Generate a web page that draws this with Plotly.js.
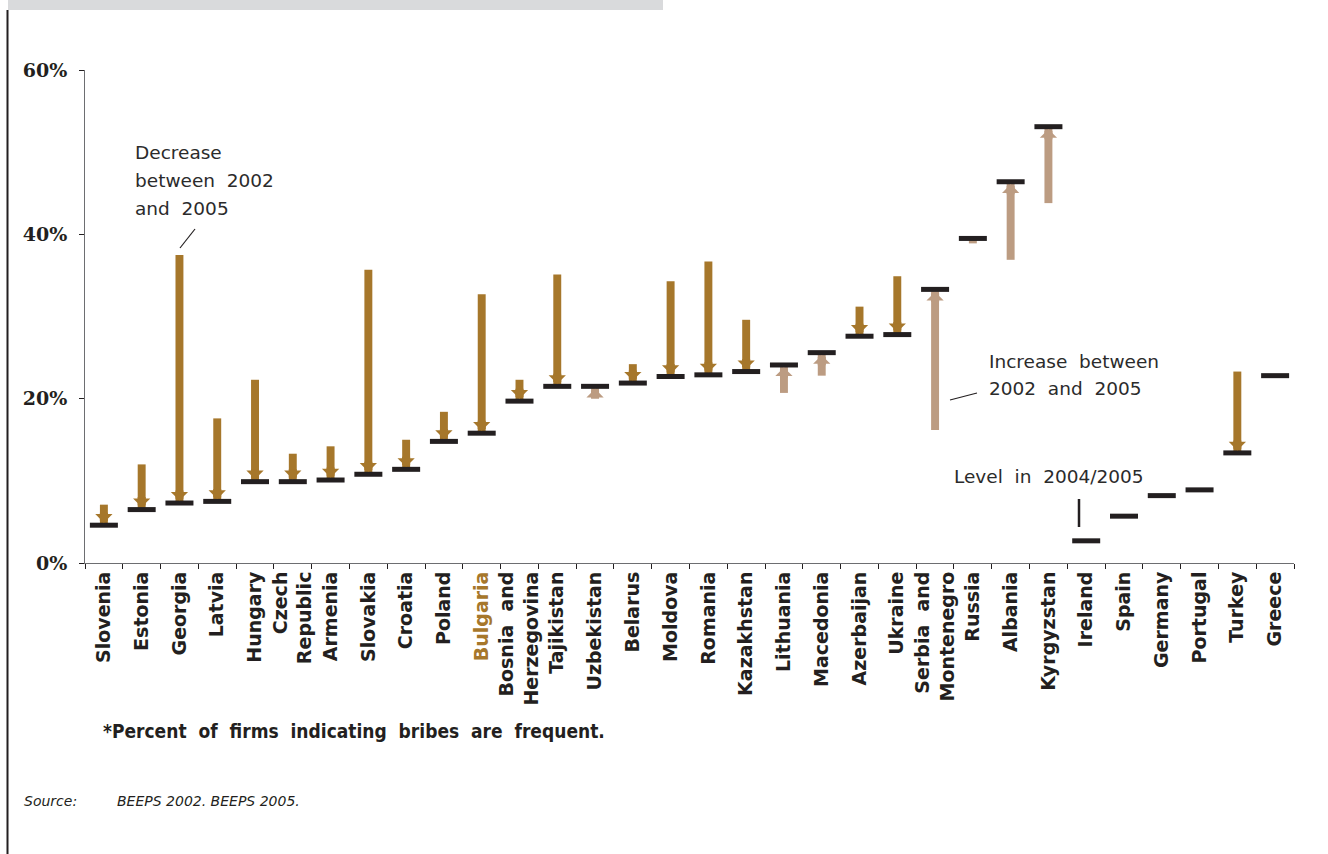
<!DOCTYPE html>
<html>
<head>
<meta charset="utf-8">
<script src="https://cdn.plot.ly/plotly-3.0.1.min.js"></script>
<style>
  html, body { margin: 0; padding: 0; background: #ffffff; }
  #chart { width: 1328px; height: 854px; }
</style>
</head>
<body>
<div id="chart"></div>
<script>
// ---- Data (percent of firms indicating bribes are frequent) ----
const countries = ["Slovenia","Estonia","Georgia","Latvia","Hungary","Czech Republic","Armenia","Slovakia","Croatia","Poland","Bulgaria","Bosnia and Herzegovina","Tajikistan","Uzbekistan","Belarus","Moldova","Romania","Kazakhstan","Lithuania","Macedonia","Azerbaijan","Ukraine","Serbia and Montenegro","Russia","Albania","Kyrgyzstan","Ireland","Spain","Germany","Portugal","Turkey","Greece"];
const tickLabels = ["Slovenia","Estonia","Georgia","Latvia","Hungary","Czech<br>Republic","Armenia","Slovakia","Croatia","Poland","Bulgaria","Bosnia  and<br>Herzegovina","Tajikistan","Uzbekistan","Belarus","Moldova","Romania","Kazakhstan","Lithuania","Macedonia","Azerbaijan","Ukraine","Serbia  and<br>Montenegro","Russia","Albania","Kyrgyzstan","Ireland","Spain","Germany","Portugal","Turkey","Greece"];
// 2002 level (start of arrow); null = no 2002 survey
const level2002 = [7.1, 12.0, 37.5, 17.6, 22.3, 13.3, 14.2, 35.7, 15.0, 18.4, 32.7, 22.3, 35.1, 20.1, 24.2, 34.3, 36.7, 29.6, 20.7, 22.8, 31.2, 34.9, 16.2, 38.9, 36.9, 43.8, null, null, null, null, 23.3, null];
// 2004/2005 level (black mark)
const level2005 = [4.6, 6.5, 7.3, 7.5, 9.9, 9.9, 10.1, 10.8, 11.4, 14.8, 15.8, 19.7, 21.5, 21.5, 21.9, 22.7, 22.9, 23.3, 24.1, 25.6, 27.6, 27.8, 33.3, 39.5, 46.4, 53.1, 2.7, 5.7, 8.2, 8.9, 13.4, 22.8];
const yTickVals = [0, 20, 40, 60];
const yTickText = ["0%", "20%", "40%", "60%"];
const highlighted = "Bulgaria";

// ---- Styles ----
const DEC = "#a6772b";
const INC = "#bc9c82";
const INK = "#231f20";
const M = {l: 85, r: 34, t: 70, b: 291};
const W = 1328, H = 854;
const PW = W - M.l - M.r, PH = H - M.t - M.b;
const px = v => (v - M.l) / PW;          // page px -> paper x
const py = v => (H - M.b - v) / PH;      // page px -> paper y
const MIN_HEAD_CHANGE = 1.2;             // changes smaller than this get no arrowhead

const ticktext = tickLabels.map((l, i) => countries[i] === highlighted
  ? '<span style="color:' + DEC + '">' + l + '</span>' : l);

// arrow shafts: bars from the 2002 level to the 2005 level
const idx = countries.map((c, i) => i).filter(i => level2002[i] !== null);
const shafts = {
  type: "bar",
  x: idx.map(i => countries[i]),
  base: idx.map(i => level2002[i]),
  y: idx.map(i => level2005[i] - level2002[i]),
  width: 0.21,
  marker: {color: idx.map(i => level2005[i] < level2002[i] ? DEC : INC), line: {width: 0}},
  hoverinfo: "x", showlegend: false
};

const levels = {
  type: "scatter", mode: "markers",
  x: countries, y: level2005,
  marker: {symbol: "line-ew", size: 20, color: INK, line: {color: INK, width: 5}},
  hoverinfo: "x+y", showlegend: false
};

const annotations = [];
// arrowheads just before the 2005 mark
idx.forEach(i => {
  const a = level2002[i], b = level2005[i];
  if (Math.abs(b - a) < MIN_HEAD_CHANGE) return;
  const down = b < a;
  annotations.push({
    xref: "x", yref: "y", axref: "pixel", ayref: "pixel",
    x: countries[i], y: b, ax: 0, ay: down ? -13 : 13,
    text: "", showarrow: true,
    arrowhead: 1, arrowsize: 0.36, arrowwidth: 8, standoff: 2.5,
    arrowcolor: down ? DEC : INC,
    font: {size: 1}, borderpad: 0
  });
});

const txtFont = {family: "DejaVu Sans", size: 18.5, color: "#2b2b2b"};
function label(text, left, cy, font) {
  annotations.push({xref: "paper", yref: "paper", x: px(left), y: py(cy),
    xanchor: "left", yanchor: "middle", text: text, showarrow: false,
    font: font || txtFont});
}
label("Decrease", 133, 152);
label("between  2002", 133, 180);
label("and  2005", 133, 208);
label("Increase  between", 987, 361);
label("2002  and  2005", 987, 389);
label("Level  in  2004/2005", 952, 476);
label("*Percent  of  firms  indicating  bribes  are  frequent.", 101, 731,
  {family: "DejaVu Sans Condensed", size: 19, color: INK, weight: "bold"});
label("Source:", 22, 801, {family: "DejaVu Sans", size: 14, color: INK, style: "italic"});
label("BEEPS 2002. BEEPS 2005.", 115, 801, {family: "DejaVu Sans", size: 14, color: INK, style: "italic"});

const shapes = [
  // top grey band and left frame rule
  {type: "rect", xref: "paper", yref: "paper", x0: px(8), x1: px(663), y0: py(0), y1: py(10),
   fillcolor: "#d9dadc", line: {width: 0}, layer: "below"},
  {type: "line", xref: "paper", yref: "paper", x0: px(7.5), x1: px(7.5), y0: py(10), y1: py(854),
   line: {color: INK, width: 2}},
  // leader lines
  {type: "line", xref: "paper", yref: "paper", x0: px(180), y0: py(248), x1: px(195), y1: py(229),
   line: {color: INK, width: 1.2}},
  {type: "line", xref: "paper", yref: "paper", x0: px(950), y0: py(400), x1: px(977), y1: py(393),
   line: {color: INK, width: 1.2}},
  {type: "line", xref: "paper", yref: "paper", x0: px(1079), y0: py(499), x1: px(1079), y1: py(527),
   line: {color: INK, width: 2.5}}
];

const layout = {
  width: W, height: H, margin: M,
  paper_bgcolor: "#ffffff", plot_bgcolor: "#ffffff",
  showlegend: false, barmode: "overlay",
  xaxis: {
    type: "category", categoryorder: "array", categoryarray: countries,
    tickmode: "array", tickvals: countries, ticktext: ticktext,
    tickangle: -90, tickson: "boundaries",
    ticks: "outside", ticklen: 5, tickcolor: INK, tickwidth: 1,
    showline: true, linecolor: "#6d6e71", linewidth: 1,
    showgrid: false, zeroline: false, range: [-0.5, countries.length - 0.5],
    tickfont: {family: "DejaVu Sans", size: 19, color: INK, weight: "bold"},
    fixedrange: true
  },
  yaxis: {
    range: [0, 60], tickmode: "array", tickvals: yTickVals, ticktext: yTickText,
    ticks: "outside", ticklen: 5, tickcolor: INK, tickwidth: 1,
    showline: true, linecolor: "#6d6e71", linewidth: 1,
    showgrid: false, zeroline: false, ticklabelstandoff: 8,
    tickfont: {family: "DejaVu Serif", size: 19, color: INK, weight: "bold"},
    fixedrange: true
  },
  annotations: annotations,
  shapes: shapes
};

Plotly.newPlot("chart", [shafts, levels], layout, {displayModeBar: false, staticPlot: true});
</script>
</body>
</html>
